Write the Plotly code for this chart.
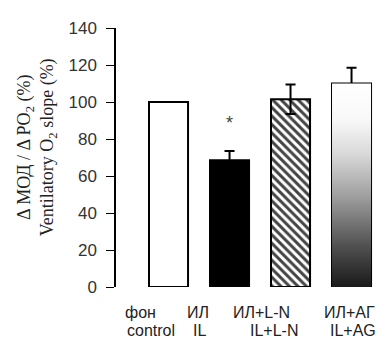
import plotly.graph_objects as go

# ---- data ----
categories_ru = ["фон", "ИЛ", "ИЛ+L-N", "ИЛ+АГ"]
categories_en = ["control", "IL", "IL+L-N", "IL+AG"]
values = [100, 68.5, 101.5, 110]
errors = [0, 5, 8, 8.5]
significance = ["", "*", "", ""]
y_ticks = [0, 20, 40, 60, 80, 100, 120, 140]

# ---- style ----
BAR_W = 0.64
fig = go.Figure()

xs = list(range(len(values)))

# gradient bar (4th) drawn as filled polygon with vertical gradient
gi = 3
gx = [gi - BAR_W / 2, gi + BAR_W / 2, gi + BAR_W / 2, gi - BAR_W / 2, gi - BAR_W / 2]
gy = [0, 0, values[gi], values[gi], 0]
fig.add_trace(go.Scatter(
    x=gx, y=gy, mode="lines", fill="toself",
    line=dict(color="rgba(0,0,0,0)", width=0),
    fillgradient=dict(type="vertical",
                      colorscale=[[0, "#1a1a1a"], [0.2, "#505050"], [0.45, "#a0a0a0"],
                                  [0.65, "#d8d8d8"], [0.82, "#f8f8f8"], [1, "#ffffff"]]),
    hoverinfo="skip", showlegend=False))

fills = ["white", "black", "white", "rgba(0,0,0,0)"]
patterns = ["", "", "\\", ""]
fig.add_trace(go.Bar(
    x=xs, y=values, width=BAR_W,
    marker=dict(color=fills,
                line=dict(color="black", width=2),
                pattern=dict(shape=patterns, fgcolor="#000000", bgcolor="white",
                             fgopacity=1, fillmode="overlay", size=6, solidity=0.5)),
    error_y=dict(type="data", array=errors, visible=True,
                 color="black", thickness=2, width=5),
    showlegend=False, hoverinfo="skip"))

annotations = []
# significance markers
for i, s in enumerate(significance):
    if s:
        annotations.append(dict(x=i, y=values[i] + errors[i] + 15, xref="x", yref="y",
                                text=s, showarrow=False,
                                font=dict(family="Liberation Sans", size=18, color="#444")))

# x category labels (two lines)
off1 = [-28, -32, -29, -2]
off2 = [-18, -30, -17, 1]
for i in xs:
    annotations.append(dict(x=i, y=0, xref="x", yref="paper", xshift=off1[i], yshift=-25,
                            text=categories_ru[i], showarrow=False, xanchor="center",
                            yanchor="middle",
                            font=dict(family="Liberation Sans", size=16, color="#222")))
    annotations.append(dict(x=i, y=0, xref="x", yref="paper", xshift=off2[i], yshift=-43,
                            text=categories_en[i], showarrow=False, xanchor="center",
                            yanchor="middle",
                            font=dict(family="Liberation Sans", size=16, color="#222")))

# y-axis title
annotations.append(dict(x=0, y=0.54, xref="paper", yref="paper", xshift=-79,
                        text="Δ МОД / Δ PO<sub>2</sub> (%)<br>Ventilatory O<sub>2</sub> slope (%)",
                        textangle=-90, showarrow=False, xanchor="center", yanchor="middle",
                        font=dict(family="Liberation Serif", size=18, color="#222")))

fig.update_layout(
    width=384, height=339,
    margin=dict(l=108, r=6, t=20, b=60),
    plot_bgcolor="white", paper_bgcolor="white",
    annotations=annotations,
    xaxis=dict(range=[-0.861, 3.565], showticklabels=False, showgrid=False,
               zeroline=False, showline=False, ticks=""),
    yaxis=dict(range=[0, 140], tickvals=y_ticks, showgrid=False, zeroline=False,
               showline=True, linecolor="black", linewidth=1.5,
               ticks="outside", ticklen=8, tickcolor="black", tickwidth=1.2,
               ticklabelstandoff=6,
               tickfont=dict(family="Liberation Sans", size=17, color="#333")),
)

fig.write_html("out.html")
